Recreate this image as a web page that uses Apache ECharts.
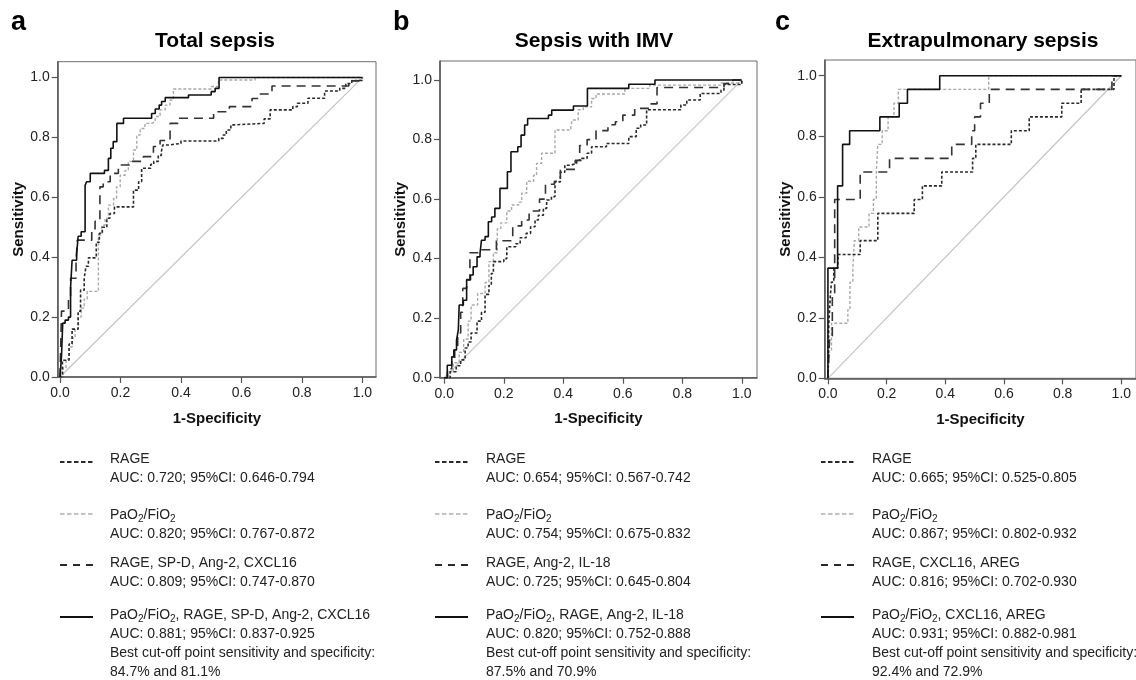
<!DOCTYPE html>
<html>
<head>
<meta charset="utf-8">
<script src="https://cdn.jsdelivr.net/npm/echarts@6/dist/echarts.min.js"></script>
<style>
html, body { margin: 0; padding: 0; background: #fff; }
#chart { width: 1136px; height: 680px; }
</style>
</head>
<body>
<div id="chart"></div>
<script>
// ROC curves, each point = [1-specificity, sensitivity] where the step ends
var tickValues = [0, 0.2, 0.4, 0.6, 0.8, 1.0];
var panelLetters = ['a', 'b', 'c'];
var panelTitles = ['Total sepsis', 'Sepsis with IMV', 'Extrapulmonary sepsis'];
var diagonal = [[0, 0], [1, 1]];

// a - total sepsis
var aRage = [[0,0],[0.008,0.056],[0.03,0.11],[0.04,0.16],[0.06,0.22],[0.068,0.29],[0.08,0.33],[0.086,0.37],[0.094,0.398],[0.12,0.45],[0.13,0.48],[0.14,0.5],[0.155,0.53],[0.165,0.546],[0.18,0.568],[0.243,0.624],[0.26,0.652],[0.27,0.697],[0.3,0.71],[0.31,0.72],[0.325,0.74],[0.335,0.752],[0.34,0.775],[0.36,0.78],[0.4,0.788],[0.525,0.797],[0.54,0.808],[0.55,0.825],[0.565,0.842],[0.575,0.847],[0.675,0.862],[0.695,0.892],[0.77,0.903],[0.785,0.914],[0.82,0.931],[0.875,0.955],[0.925,0.964],[0.945,0.98],[0.965,0.99],[1,1]];
var aPaO2 = [[0,0],[0.01,0.03],[0.02,0.06],[0.03,0.1],[0.04,0.13],[0.05,0.16],[0.06,0.2],[0.07,0.23],[0.08,0.26],[0.09,0.286],[0.127,0.474],[0.138,0.507],[0.149,0.53],[0.16,0.574],[0.177,0.596],[0.187,0.635],[0.199,0.674],[0.215,0.69],[0.226,0.72],[0.243,0.758],[0.254,0.808],[0.265,0.83],[0.281,0.847],[0.303,0.853],[0.315,0.87],[0.331,0.892],[0.348,0.908],[0.364,0.925],[0.375,0.962],[0.5,0.97],[0.524,0.992],[0.645,1],[1,1]];
var aCombo = [[0,0],[0.005,0.22],[0.028,0.26],[0.035,0.33],[0.053,0.38],[0.057,0.457],[0.105,0.49],[0.116,0.52],[0.132,0.635],[0.143,0.652],[0.166,0.68],[0.193,0.708],[0.237,0.72],[0.276,0.736],[0.309,0.77],[0.331,0.79],[0.364,0.847],[0.39,0.864],[0.508,0.886],[0.56,0.903],[0.635,0.93],[0.66,0.945],[0.701,0.972],[0.955,0.989],[0.99,1],[1,1]];
var aFull = [[0,0],[0.005,0.07],[0.009,0.18],[0.017,0.19],[0.028,0.2],[0.035,0.3],[0.04,0.39],[0.055,0.41],[0.06,0.47],[0.07,0.485],[0.083,0.64],[0.088,0.652],[0.1,0.68],[0.147,0.69],[0.16,0.73],[0.168,0.764],[0.176,0.786],[0.188,0.847],[0.21,0.864],[0.303,0.88],[0.315,0.895],[0.328,0.908],[0.336,0.92],[0.348,0.933],[0.425,0.942],[0.5,0.953],[0.513,0.964],[0.526,1],[1,1]];

// b - sepsis with IMV
var bRage = [[0,0],[0.02,0.02],[0.04,0.04],[0.055,0.06],[0.07,0.1],[0.08,0.12],[0.09,0.15],[0.11,0.19],[0.125,0.22],[0.137,0.28],[0.15,0.31],[0.158,0.35],[0.165,0.39],[0.2,0.4],[0.21,0.44],[0.24,0.45],[0.255,0.47],[0.275,0.485],[0.29,0.507],[0.305,0.53],[0.316,0.546],[0.333,0.569],[0.344,0.597],[0.36,0.608],[0.372,0.658],[0.39,0.69],[0.405,0.714],[0.425,0.72],[0.445,0.73],[0.462,0.737],[0.48,0.754],[0.495,0.776],[0.545,0.787],[0.62,0.81],[0.645,0.838],[0.66,0.849],[0.68,0.9],[0.795,0.916],[0.815,0.933],[0.86,0.955],[0.93,0.966],[0.94,0.985],[1,1]];
var bPaO2 = [[0,0],[0.015,0.02],[0.03,0.05],[0.05,0.085],[0.065,0.13],[0.08,0.19],[0.09,0.244],[0.112,0.283],[0.137,0.32],[0.15,0.39],[0.165,0.42],[0.178,0.5],[0.19,0.52],[0.21,0.56],[0.226,0.58],[0.25,0.59],[0.26,0.62],[0.277,0.66],[0.3,0.68],[0.31,0.72],[0.327,0.754],[0.372,0.832],[0.425,0.843],[0.43,0.866],[0.45,0.9],[0.467,0.91],[0.495,0.938],[0.51,0.953],[0.607,0.972],[0.69,0.983],[0.93,0.99],[1,1]];
var bCombo = [[0,0],[0.01,0.03],[0.025,0.06],[0.035,0.1],[0.045,0.15],[0.055,0.22],[0.062,0.3],[0.075,0.33],[0.086,0.42],[0.12,0.43],[0.175,0.46],[0.23,0.51],[0.26,0.53],[0.285,0.56],[0.32,0.6],[0.34,0.65],[0.37,0.66],[0.39,0.7],[0.44,0.73],[0.455,0.78],[0.48,0.8],[0.51,0.83],[0.55,0.85],[0.575,0.86],[0.6,0.882],[0.64,0.905],[0.69,0.92],[0.715,0.975],[0.94,0.988],[0.97,1],[1,1]];
var bFull = [[0,0],[0.01,0.042],[0.025,0.07],[0.032,0.093],[0.041,0.126],[0.047,0.16],[0.05,0.244],[0.064,0.26],[0.075,0.328],[0.088,0.345],[0.097,0.373],[0.11,0.406],[0.12,0.418],[0.125,0.462],[0.137,0.474],[0.148,0.524],[0.159,0.54],[0.17,0.569],[0.187,0.636],[0.212,0.692],[0.224,0.759],[0.247,0.776],[0.258,0.815],[0.27,0.849],[0.28,0.871],[0.35,0.882],[0.361,0.899],[0.434,0.913],[0.481,0.972],[0.62,0.986],[0.708,1],[1,1]];

// c - extrapulmonary sepsis
var cRage = [[0,0],[0.003,0.18],[0.008,0.27],[0.012,0.318],[0.02,0.364],[0.034,0.409],[0.11,0.455],[0.17,0.545],[0.294,0.591],[0.322,0.636],[0.388,0.682],[0.493,0.727],[0.504,0.773],[0.625,0.818],[0.686,0.864],[0.797,0.909],[0.863,0.955],[0.975,1],[1,1]];
var cPaO2 = [[0,0],[0.005,0.091],[0.012,0.182],[0.068,0.227],[0.075,0.318],[0.085,0.364],[0.09,0.455],[0.105,0.5],[0.14,0.545],[0.155,0.591],[0.165,0.682],[0.17,0.773],[0.185,0.818],[0.205,0.864],[0.225,0.909],[0.24,0.955],[0.548,1],[1,1]];
var cCombo = [[0,0],[0.006,0.14],[0.015,0.27],[0.023,0.591],[0.11,0.682],[0.21,0.727],[0.422,0.773],[0.49,0.818],[0.5,0.864],[0.52,0.909],[0.55,0.955],[0.968,1],[1,1]];
var cFull = [[0,0],[0,0.364],[0.033,0.636],[0.05,0.773],[0.074,0.818],[0.177,0.864],[0.243,0.909],[0.271,0.955],[0.381,1],[1,1]];

// legend texts
var aNames = ['RAGE', 'PaO2/FiO2', 'RAGE, SP-D, Ang-2, CXCL16', 'PaO2/FiO2, RAGE, SP-D, Ang-2, CXCL16'];
var aStats = ['AUC: 0.720; 95%CI: 0.646-0.794', 'AUC: 0.820; 95%CI: 0.767-0.872', 'AUC: 0.809; 95%CI: 0.747-0.870', 'AUC: 0.881; 95%CI: 0.837-0.925'];
var aCutoff = ['Best cut-off point sensitivity and specificity:', '84.7% and 81.1%'];
var bNames = ['RAGE', 'PaO2/FiO2', 'RAGE, Ang-2, IL-18', 'PaO2/FiO2, RAGE, Ang-2, IL-18'];
var bStats = ['AUC: 0.654; 95%CI: 0.567-0.742', 'AUC: 0.754; 95%CI: 0.675-0.832', 'AUC: 0.725; 95%CI: 0.645-0.804', 'AUC: 0.820; 95%CI: 0.752-0.888'];
var bCutoff = ['Best cut-off point sensitivity and specificity:', '87.5% and 70.9%'];
var cNames = ['RAGE', 'PaO2/FiO2', 'RAGE, CXCL16, AREG', 'PaO2/FiO2, CXCL16, AREG'];
var cStats = ['AUC: 0.665; 95%CI: 0.525-0.805', 'AUC: 0.867; 95%CI: 0.802-0.932', 'AUC: 0.816; 95%CI: 0.702-0.930', 'AUC: 0.931; 95%CI: 0.882-0.981'];
var cCutoff = ['Best cut-off point sensitivity and specificity:', '92.4% and 72.9%'];

var font = "'Liberation Sans', Arial, sans-serif";

// plot frames (pixels) and axis extents
var boxes = [
	{ left: 57.7, top: 61.7, right: 376, bottom: 377, xMin: -0.0076, xMax: 1.045, yMax: 1.053, letterX: 11, titleX: 215, nameX: 19, legX: 60, textX: 110 },
	{ left: 440, top: 61, right: 757, bottom: 377.7, xMin: -0.0145, xMax: 1.051, yMax: 1.064, letterX: 393, titleX: 594, nameX: 402, legX: 435, textX: 486 },
	{ left: 824.7, top: 60, right: 1144.8, bottom: 378.3, xMin: -0.011, xMax: 1.05, yMax: 1.052, letterX: 775, titleX: 983, nameX: 785, legX: 821, textX: 872 }
];

// line styles: RAGE, PaO2/FiO2, combination, combination + PaO2/FiO2
var curveStyles = [
	{ color: '#2a2a2a', width: 1.6, type: [3, 2] },
	{ color: '#a9a9a9', width: 1.4, type: [3, 2] },
	{ color: '#333333', width: 1.6, type: [9, 6] },
	{ color: '#111111', width: 1.6, type: 'solid' }
];
var sampleStyles = [
	{ stroke: '#2a2a2a', lineWidth: 1.8, lineDash: [4.5, 2.5] },
	{ stroke: '#b0b0b0', lineWidth: 1.5, lineDash: [4.5, 2.5] },
	{ stroke: '#2a2a2a', lineWidth: 1.8, lineDash: [7, 6] },
	{ stroke: '#111111', lineWidth: 2, lineDash: null }
];
var sampleY = [462, 514, 565, 617];
var textTop = [449.5, 505.5, 553.5, 605.5];

var panels = [
	{ curves: [aRage, aPaO2, aCombo, aFull], names: aNames, stats: aStats, cutoff: aCutoff },
	{ curves: [bRage, bPaO2, bCombo, bFull], names: bNames, stats: bStats, cutoff: bCutoff },
	{ curves: [cRage, cPaO2, cCombo, cFull], names: cNames, stats: cStats, cutoff: cCutoff }
];

function subs(str) {
	return str.replace(/O2/g, 'O{s|2}');
}

var grids = [], xAxes = [], yAxes = [], series = [], graphics = [];
var drawOrder = [1, 0, 2, 3];// light dotted under the dark lines

panels.forEach(function (p, i) {
	var b = boxes[i];
	grids.push({
		left: b.left, top: b.top, width: b.right - b.left, height: b.bottom - b.top,
		show: true, borderColor: '#6e6e6e', borderWidth: 1, backgroundColor: '#fff'
	});
	xAxes.push({
		type: 'value', gridIndex: i, min: b.xMin, max: b.xMax,
		name: '1-Specificity', nameLocation: 'middle', nameGap: 34,
		nameTextStyle: { fontFamily: font, fontSize: 15, fontWeight: 'bold', color: '#111' },
		axisLine: { show: true, onZero: false, lineStyle: { color: '#555', width: 1.5 } },
		axisTick: { show: true, length: 6, customValues: tickValues, lineStyle: { color: '#555', width: 1.2 } },
		axisLabel: { customValues: tickValues, margin: 9, fontFamily: font, fontSize: 14, color: '#222',
			formatter: function (v) { return v.toFixed(1); } },
		splitLine: { show: false }
	});
	yAxes.push({
		type: 'value', gridIndex: i, min: 0, max: b.yMax,
		name: 'Sensitivity', nameLocation: 'middle', nameGap: b.left - b.nameX - 8,
		nameTextStyle: { fontFamily: font, fontSize: 15, fontWeight: 'bold', color: '#111' },
		axisLine: { show: true, onZero: false, lineStyle: { color: '#555', width: 1.5 } },
		axisTick: { show: true, length: 6, customValues: tickValues, lineStyle: { color: '#555', width: 1.2 } },
		axisLabel: { customValues: tickValues, margin: 8, fontFamily: font, fontSize: 14, color: '#222',
			formatter: function (v) { return v.toFixed(1); } },
		splitLine: { show: false }
	});

	series.push({
		type: 'line', xAxisIndex: i, yAxisIndex: i, data: diagonal,
		showSymbol: false, silent: true,
		lineStyle: { color: '#c4c4c4', width: 1.2 }
	});
	drawOrder.forEach(function (k) {
		series.push({
			type: 'line', xAxisIndex: i, yAxisIndex: i, data: p.curves[k],
			step: 'end', showSymbol: false, silent: true,
			lineStyle: curveStyles[k]
		});
	});

	// panel letter and title
	graphics.push({ type: 'text', left: b.letterX, top: 9,
		style: { text: panelLetters[i], font: 'bold 27px ' + font, fill: '#000' } });
	graphics.push({ type: 'text', x: b.titleX, y: 41,
		style: { text: panelTitles[i], font: 'bold 21px ' + font, fill: '#000', align: 'center', verticalAlign: 'middle' } });

	// legend below each panel
	for (var k = 0; k < 4; k++) {
		var st = sampleStyles[k];
		graphics.push({ type: 'line',
			shape: { x1: b.legX, y1: sampleY[k], x2: b.legX + 33, y2: sampleY[k] },
			style: { stroke: st.stroke, lineWidth: st.lineWidth, lineDash: st.lineDash } });
		var lines = [subs(p.names[k]), p.stats[k]];
		if (k === 3) {
			lines = lines.concat(p.cutoff);
		}
		graphics.push({ type: 'text', x: b.textX, y: textTop[k],
			style: {
				text: lines.join('\n'), fontFamily: font, fontSize: 14, fill: '#222',
				lineHeight: 19, verticalAlign: 'top',
				rich: { s: { fontFamily: font, fontSize: 10, lineHeight: 12, verticalAlign: 'bottom', fill: '#222' } }
			} });
	}
});

var option = {
	animation: false,
	backgroundColor: '#fff',
	grid: grids,
	xAxis: xAxes,
	yAxis: yAxes,
	series: series,
	graphic: graphics
};

var myChart = echarts.init(document.getElementById('chart'));
myChart.setOption(option);
</script>
</body>
</html>
